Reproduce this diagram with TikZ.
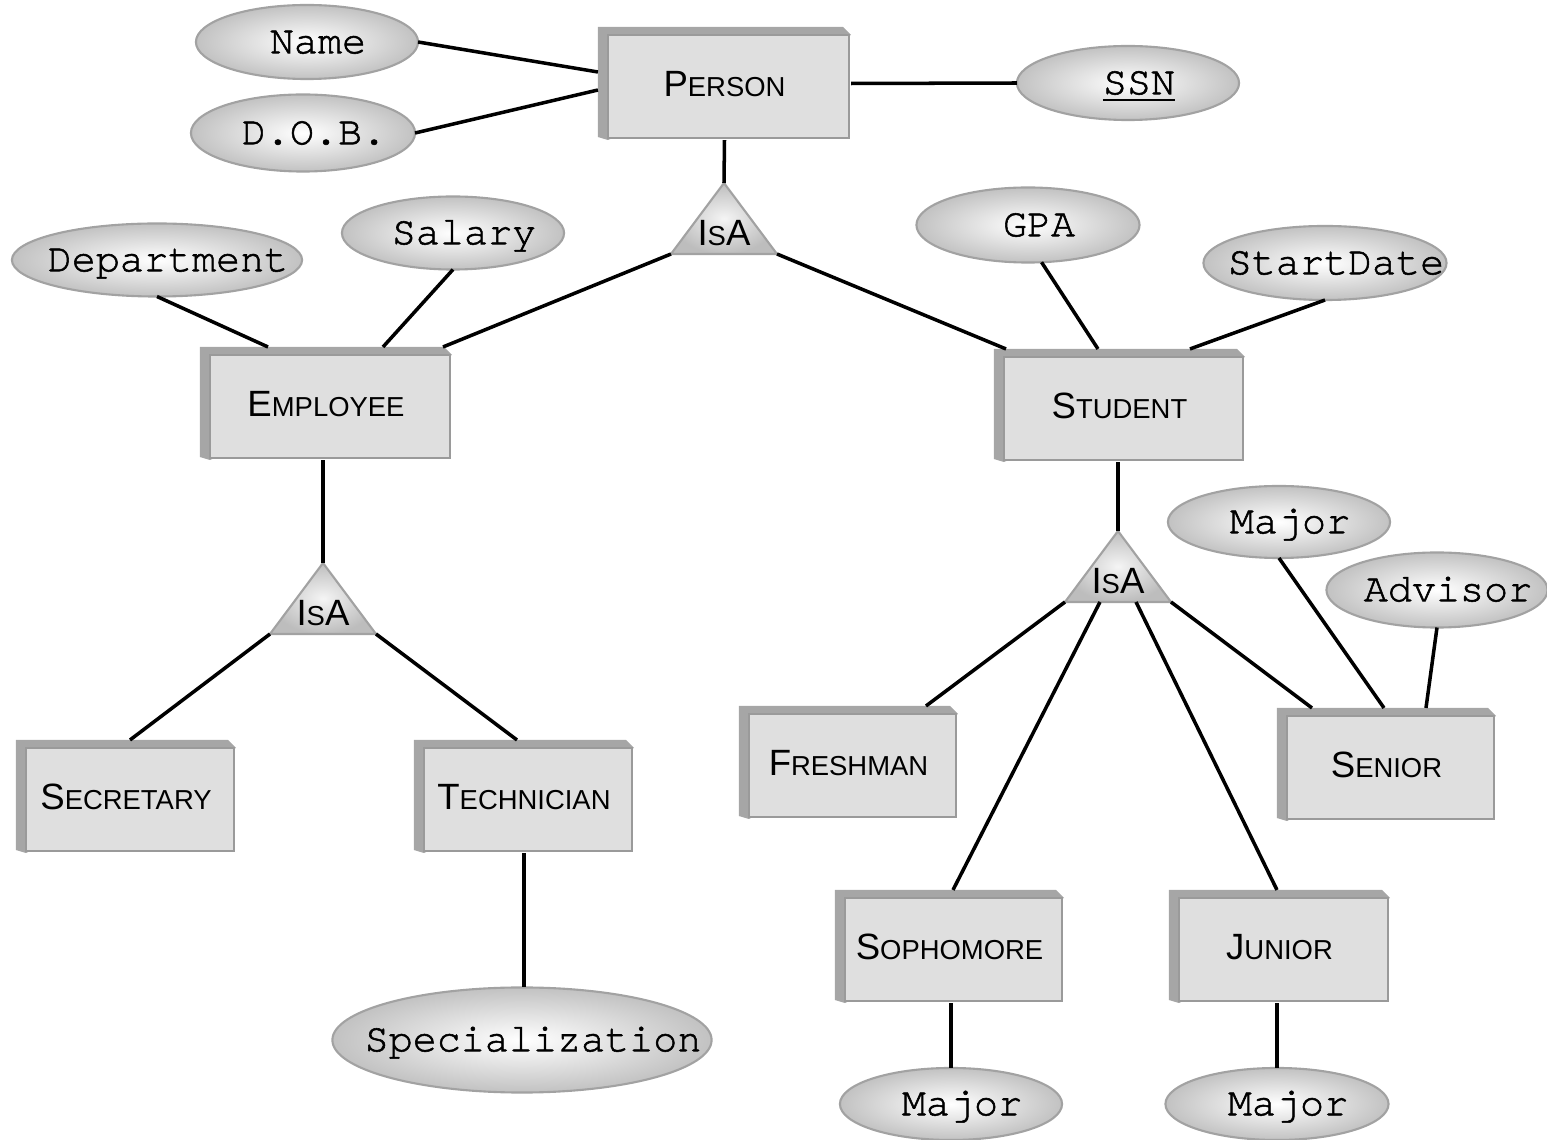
\documentclass[tikz,border=0pt]{standalone}
\usepackage{fontspec}
\usepackage{tikz}
\usetikzlibrary{shapes.geometric}
\usetikzlibrary{calc}
\newfontfamily\boxfont{Liberation Sans}
\newfontfamily\attfont[FakeBold=1.4]{TeX Gyre Cursor}
\definecolor{boxface}{HTML}{DFDFDF}
\definecolor{boxside}{HTML}{A6A6A6}
\definecolor{boxline}{HTML}{9A9A9A}
\definecolor{attline}{HTML}{A2A2A2}
\newcommand{\entname}[2]{{\fontsize{10.4}{12}\selectfont #1}{\fontsize{7.8}{9}\selectfont #2}}
\newcommand{\isatext}{\entname{I}{S}{\fontsize{10.4}{12}\selectfont A}}
\tikzstyle{er}=[x=0.01cm, y=-0.01cm]
\tikzstyle{link}=[line width=1pt, black]
\tikzstyle{entity}=[rectangle, inner sep=0, outer sep=0, minimum height=1.13cm,
                    font=\boxfont, text height=7.4pt, text depth=0pt,
                    % bevelled left and top edge, then the front face
                    path picture={
                      \fill[boxside] ([yshift=0.03cm]path picture bounding box.south west)
                        -- (path picture bounding box.north west)
                        -- ([xshift=-0.08cm]path picture bounding box.north east)
                        -- ([yshift=-0.08cm]path picture bounding box.north east)
                        -- ([xshift=0.1cm]path picture bounding box.south west) -- cycle;
                      \filldraw[fill=boxface, draw=boxline, line width=0.6pt]
                        ([xshift=0.1cm, yshift=0.02cm]path picture bounding box.south west)
                        rectangle ([xshift=-0.02cm, yshift=-0.08cm]path picture bounding box.north east);
                    }]
\tikzstyle{attr}=[ellipse, draw=attline, line width=0.6pt, inner sep=0, outer sep=0,
                  shading=radial, inner color=white, outer color=black!24,
                  minimum width=2.22cm, minimum height=0.74cm,
                  font=\attfont\fontsize{11.4}{13}\selectfont, text height=6.4pt, text depth=0pt,
                  execute at begin node={\hbox to 0pt\bgroup\hss\hskip0.22cm},
                  execute at end node={\hss\egroup}]
\tikzstyle{isatri}=[draw=attline, line width=0.6pt, shading=radial,
                    inner color=white!96!black, outer color=black!26]
\tikzstyle{isalabel}=[inner sep=0, font=\boxfont, text height=7.4pt, text depth=0pt]
\newcommand{\isa}[3]{%
  \path[isatri] (#2,#3) coordinate (#1top) -- (#2+53,#3+71) coordinate (#1right)
    -- (#2-53,#3+71) coordinate (#1left) -- cycle;
  \node[isalabel] (#1) at (#2,#3+49) {\isatext};}

\begin{document}
\begin{tikzpicture}[er]
    \useasboundingbox (0,0) rectangle (1547,1140);
    \node[entity, minimum width=2.53cm] (person) at (724.5,83.5)  {\entname{P}{ERSON}};
    \node[entity, minimum width=2.52cm] (emp)    at (326,403.5)   {\entname{E}{MPLOYEE}};
    \node[entity, minimum width=2.51cm] (stu)    at (1119.5,405.5) {\entname{S}{TUDENT}};
    \node[entity, minimum width=2.2cm]  (sec)    at (126,796.5)   {\entname{S}{ECRETARY}};
    \node[entity, minimum width=2.2cm]  (tech)   at (524,796.5)   {\entname{T}{ECHNICIAN}};
    \node[entity, minimum width=2.19cm] (fresh)  at (848.5,762.5) {\entname{F}{RESHMAN}};
    \node[entity, minimum width=2.19cm] (sen)    at (1386.5,764.5) {\entname{S}{ENIOR}};
    \node[entity, minimum width=2.29cm] (soph)   at (949.5,946.5) {\entname{S}{OPHOMORE}};
    \node[entity, minimum width=2.21cm] (jun)    at (1279.5,946.5) {\entname{J}{UNIOR}};

    \node[attr]                                       (name)  at (307,42)    {Name};
    \node[attr, minimum width=2.24cm, minimum height=0.77cm] (dob) at (303,133) {D.O.B.};
    \node[attr]                                       (ssn)   at (1128,83)   {\underline{SSN}};
    \node[attr, minimum width=2.23cm, minimum height=0.75cm] (gpa) at (1028,225) {GPA};
    \node[attr, minimum width=2.43cm]                 (start) at (1325,263)  {StartDate};
    \node[attr, minimum width=2.9cm, minimum height=0.73cm] (dept) at (157,260) {Department};
    \node[attr, minimum height=0.73cm]                (sal)   at (453,233)   {Salary};
    \node[attr, minimum height=0.72cm]                (smaj)  at (1279,522)  {Major};
    \node[attr, minimum width=2.21cm, minimum height=0.75cm] (adv) at (1437,590) {Advisor};
    \node[attr, minimum width=3.79cm, minimum height=1.05cm] (spec) at (522,1040) {Specialization};
    \node[attr, minimum height=0.72cm]                (pmaj)  at (951,1104)  {Major};
    \node[attr, minimum width=2.23cm, minimum height=0.72cm] (jmaj) at (1277,1104) {Major};

    \isa{isaP}{724}{183}
    \isa{isaE}{323}{563}
    \isa{isaS}{1118}{531}

    \draw[link] (name.east) -- (person.west |- 0,72);
    \draw[link] (dob.east) -- (person.west |- 0,90);
    \draw[link] (person.east) -- (ssn.west);
    \draw[link] (person.south) -- (isaPtop);
    \draw[link] (isaPleft) -- (emp.north -| 443,0);
    \draw[link] (isaPright) -- (stu.north -| 1006,0);
    \draw[link] (dept.south) -- (emp.north -| 268,0);
    \draw[link] (sal.south) -- (emp.north -| 383,0);
    \draw[link] (gpa.-70) -- (stu.north -| 1098,0);
    \draw[link] (start.south) -- (stu.north -| 1190,0);
    \draw[link] (isaEtop |- emp.south) -- (isaEtop);
    \draw[link] (isaEleft) -- (sec.north -| 130,0);
    \draw[link] (isaEright) -- (tech.north -| 517,0);
    \draw[link] (tech.south) -- (tech.south |- spec.north);
    \draw[link] (isaStop |- stu.south) -- (isaStop);
    \draw[link] (isaSleft) -- (fresh.north -| 926,0);
    \draw[link] ($(isaSleft)!0.33!(isaSright)$) -- (soph.north -| 953,0);
    \draw[link] ($(isaSleft)!0.67!(isaSright)$) -- (jun.north -| 1277,0);
    \draw[link] (isaSright) -- (sen.north -| 1312,0);
    \draw[link] (smaj.south) -- (sen.north -| 1384,0);
    \draw[link] (adv.south) -- (sen.north -| 1426,0);
    \draw[link] (soph.south -| pmaj.north) -- (pmaj.north);
    \draw[link] (jun.south -| jmaj.north) -- (jmaj.north);
\end{tikzpicture}
\end{document}
